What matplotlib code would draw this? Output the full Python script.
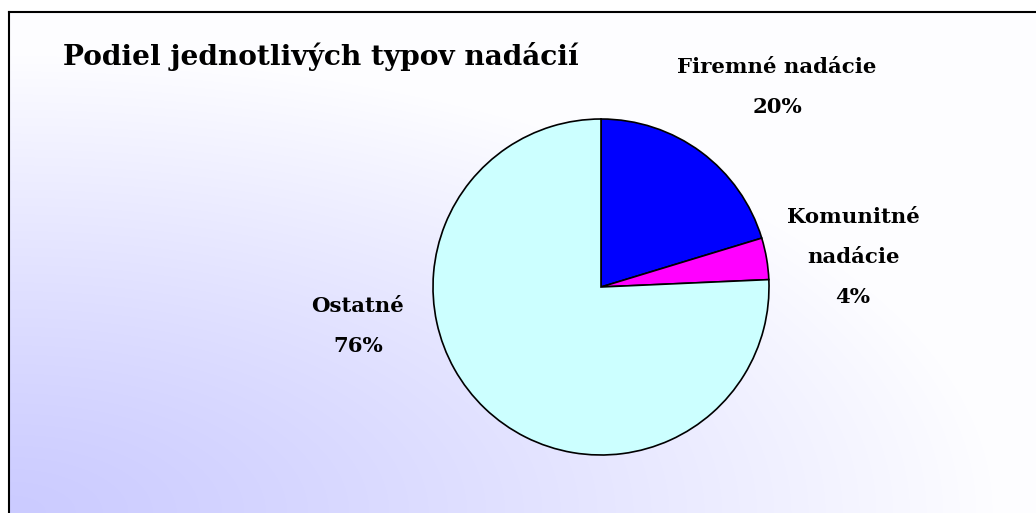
import numpy as np
import matplotlib
matplotlib.use("Agg")
import matplotlib.pyplot as plt
from matplotlib.lines import Line2D

# ---- data ----
title = "Podiel jednotlivých typov nadácií"
categories = ["Firemné nadácie", "Komunitné nadácie", "Ostatné"]
label_lines = [["Firemné nadácie"], ["Komunitné", "nadácie"], ["Ostatné"]]
values = [20.3, 4.0, 75.7]
colors = ["#0000FF", "#FF00FF", "#CCFFFF"]

W, H = 1036, 513
fig = plt.figure(figsize=(W / 100, H / 100), dpi=100)
fig.patch.set_facecolor("white")

def fx(px):
    return px / W

def fy(py):
    return 1 - py / H

# ---- gradient background ----
bx0, by0 = 9, 12
bg = fig.add_axes([fx(bx0), 0, 1 - fx(bx0), fy(by0)])
bg.set_axis_off()
nx, ny = 500, 250
xs = np.linspace(bx0, W, nx)
ys = np.linspace(by0, H, ny)
X, Y = np.meshgrid(xs, ys)
t = np.sqrt(((X - bx0) / 1000.0) ** 2 + ((H - Y) / 465.0) ** 2)
f = np.clip(t, 0, 1) ** 1.2
f = 0.02 + 0.96 * f
c0 = np.array([0xCA, 0xCA, 0xFF]) / 255.0
c1 = np.array([1.0, 1.0, 1.0])
img = c0[None, None, :] + (c1 - c0)[None, None, :] * f[:, :, None]
bg.imshow(img, aspect="auto", extent=[0, 1, 0, 1], origin="upper",
          interpolation="bilinear")
bg.set_xlim(0, 1)
bg.set_ylim(0, 1)

# border (top and left)
fig.add_artist(Line2D([fx(bx0), 1], [fy(by0), fy(by0)], color="black",
                      lw=1.5, transform=fig.transFigure))
fig.add_artist(Line2D([fx(bx0), fx(bx0)], [fy(by0), 0], color="black",
                      lw=1.5, transform=fig.transFigure))

# ---- pie ----
cx, cy, r = 601, 287, 168
ax = fig.add_axes([fx(cx - r), fy(cy + r), 2 * r / W, 2 * r / H])
ax.pie(values, colors=colors, startangle=90, counterclock=False,
       radius=1.0, wedgeprops=dict(edgecolor="black", linewidth=1.2))
ax.set_xlim(-1, 1)
ax.set_ylim(-1, 1)
ax.set_axis_off()

font = dict(family="DejaVu Serif", weight="bold", color="black")

# title
fig.text(fx(63), fy(65), title, fontsize=20.2, ha="left", va="baseline", **font)

# labels: (center x, first baseline y)
label_pos = [(777, 73), (853, 223), (358, 312)]
step = 40
for lines, v, (lx, ly) in zip(label_lines, values, label_pos):
    allines = lines + [f"{round(v):d}%"]
    for i, s in enumerate(allines):
        fig.text(fx(lx), fy(ly + i * step), s, fontsize=15.3, ha="center",
                 va="baseline", **font)

fig.savefig("out.png", dpi=100)
